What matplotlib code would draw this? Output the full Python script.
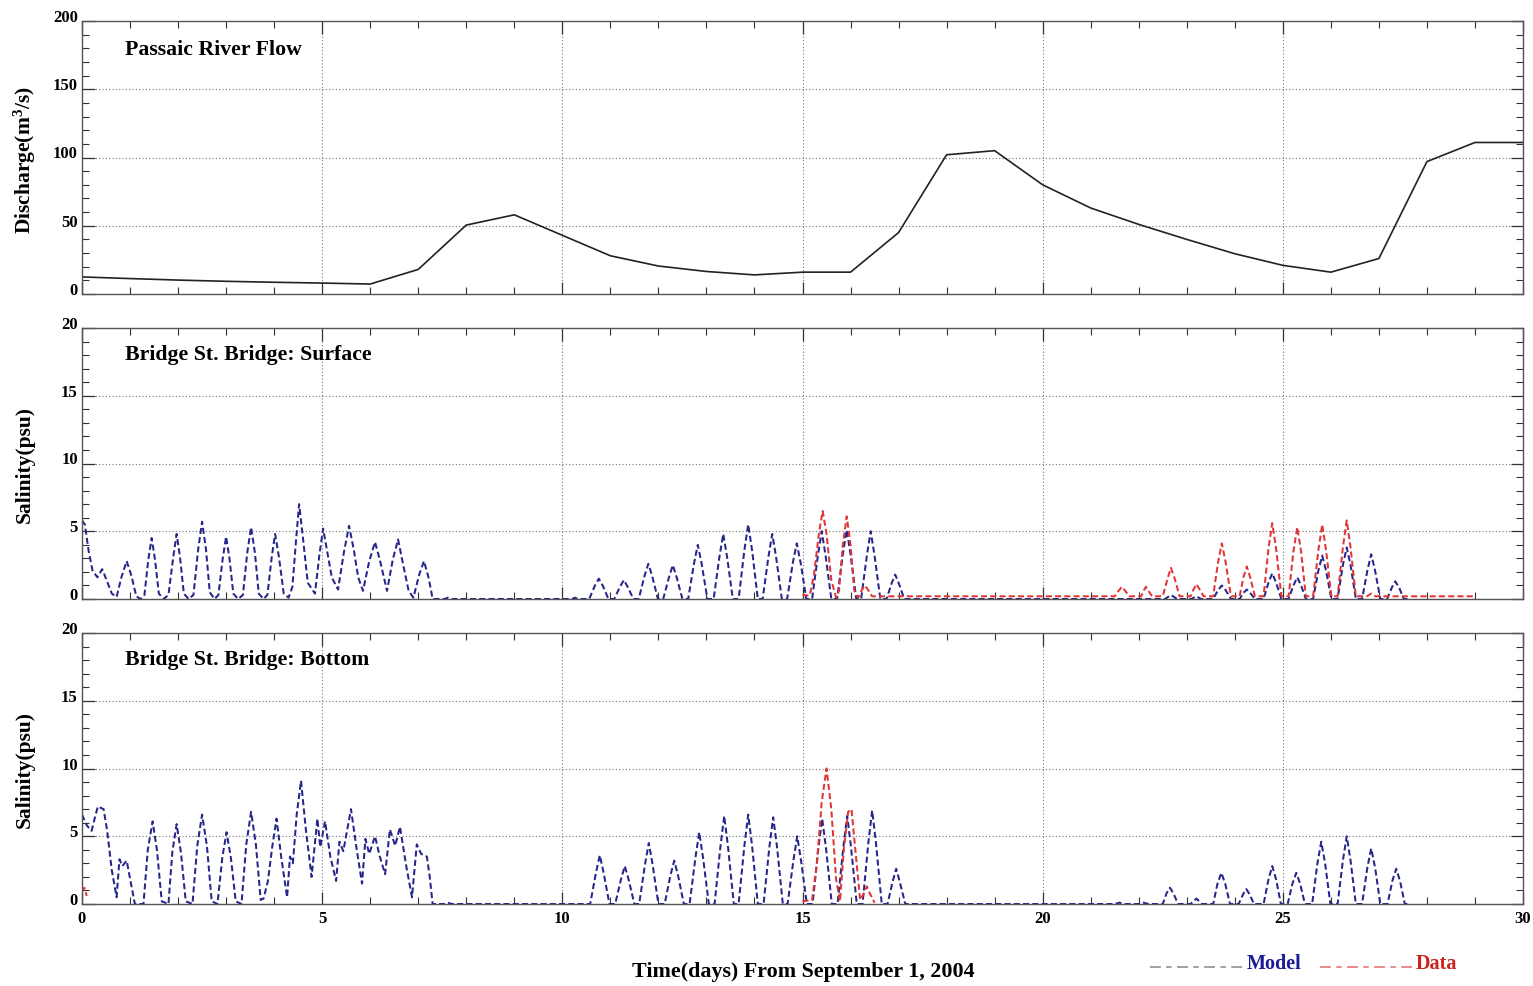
import matplotlib
matplotlib.use("Agg")
import matplotlib.pyplot as plt
from matplotlib.lines import Line2D
from matplotlib.ticker import MultipleLocator
import numpy as np

plt.rcParams['font.family'] = ['Liberation Serif', 'DejaVu Serif']
plt.rcParams['font.weight'] = 'bold'
plt.rcParams['mathtext.fontset'] = 'custom'
plt.rcParams['mathtext.rm'] = 'Liberation Serif:bold'
plt.rcParams['mathtext.it'] = 'Liberation Serif:bold'
plt.rcParams['mathtext.bf'] = 'Liberation Serif:bold'

# ---------------- data ----------------
flow_days = list(range(31))
flow = [12.5, 11.3, 10.2, 9.3, 8.6, 8.0, 7.3, 18, 50.5, 58, 43, 28, 20.5, 16.5, 14,
        16, 16, 45, 102, 105, 80, 63, 51, 40, 29.5, 21, 16, 26, 97, 111, 111]

surf_model = [
    (0.0, 5.8), (0.06, 5.5), (0.14, 3.5), (0.22, 2.1), (0.32, 1.6), (0.42, 2.2), (0.5, 1.5),
    (0.62, 0.4), (0.72, 0.15), (0.82, 1.6), (0.93, 2.8), (1.03, 1.7), (1.13, 0.2), (1.22, 0.0),
    (1.3, 0.3), (1.38, 2.9), (1.45, 4.5), (1.52, 2.9), (1.6, 0.4), (1.7, 0.0),
    (1.8, 0.3), (1.9, 3.1), (1.97, 4.8), (2.04, 3.1), (2.12, 0.4), (2.22, 0.0),
    (2.32, 0.3), (2.42, 3.7), (2.5, 5.7), (2.58, 3.7), (2.66, 0.5), (2.76, 0.0),
    (2.84, 0.3), (2.93, 3.0), (3.0, 4.6), (3.07, 3.0), (3.15, 0.4), (3.25, 0.0),
    (3.35, 0.3), (3.44, 3.4), (3.52, 5.3), (3.6, 3.4), (3.68, 0.4), (3.78, 0.0),
    (3.86, 0.3), (3.95, 3.1), (4.02, 4.8), (4.1, 3.1), (4.2, 0.4), (4.3, 0.1),
    (4.38, 0.9), (4.46, 4.5), (4.52, 7.0), (4.6, 4.5), (4.7, 1.2), (4.85, 0.4),
    (4.94, 3.2), (5.02, 5.2), (5.1, 3.6), (5.2, 1.6), (5.33, 0.7), (5.45, 3.4),
    (5.56, 5.4), (5.66, 3.6), (5.75, 1.6), (5.85, 0.6), (5.98, 2.8), (6.1, 4.2),
    (6.2, 2.9), (6.35, 0.6), (6.47, 2.9), (6.58, 4.4), (6.7, 2.3), (6.8, 0.6),
    (6.9, 0.1), (7.02, 1.8), (7.12, 2.8), (7.22, 1.5), (7.3, 0.0), (7.55, 0.0),
    (7.62, 0.1), (7.7, 0.0), (10.2, 0.0), (10.26, 0.1), (10.32, 0.0),
    (10.56, 0.0), (10.68, 1.0), (10.76, 1.5), (10.84, 1.0), (10.96, 0.0),
    (11.08, 0.0), (11.2, 0.9), (11.28, 1.4), (11.36, 0.9), (11.48, 0.0),
    (11.59, 0.0), (11.71, 1.7), (11.79, 2.6), (11.87, 1.7), (11.99, 0.0),
    (12.1, 0.0), (12.22, 1.6), (12.3, 2.5), (12.38, 1.6), (12.5, 0.0),
    (12.62, 0.0), (12.74, 2.6), (12.82, 4.0), (12.9, 2.6), (13.02, 0.0),
    (13.15, 0.0), (13.27, 3.1), (13.35, 4.8), (13.43, 3.1), (13.55, 0.0),
    (13.67, 0.0), (13.79, 3.6), (13.87, 5.5), (13.95, 3.6), (14.07, 0.0),
    (14.17, 0.0), (14.29, 3.1), (14.37, 4.8), (14.45, 3.1), (14.57, 0.0),
    (14.68, 0.0), (14.8, 2.7), (14.88, 4.1), (14.96, 2.7), (15.08, 0.0),
    (15.2, 0.0), (15.32, 3.2), (15.4, 5.0), (15.48, 3.2), (15.6, 0.0),
    (15.72, 0.0), (15.84, 3.3), (15.92, 5.1), (16.0, 3.3), (16.12, 0.0),
    (16.22, 0.0), (16.34, 3.2), (16.42, 5.0), (16.5, 3.2), (16.62, 0.0),
    (16.75, 0.0), (16.86, 1.2), (16.93, 1.8), (17.0, 1.2), (17.12, 0.0),
    (22.55, 0.0), (22.67, 0.3), (22.8, 0.0), (23.1, 0.0), (23.2, 0.2), (23.3, 0.0),
    (23.55, 0.0), (23.65, 0.65), (23.73, 1.0), (23.81, 0.65), (23.92, 0.0),
    (24.1, 0.0), (24.18, 0.45), (24.25, 0.7), (24.32, 0.45), (24.42, 0.0),
    (24.6, 0.0), (24.7, 1.2), (24.78, 1.9), (24.86, 1.2), (24.97, 0.0),
    (25.12, 0.0), (25.22, 1.0), (25.3, 1.6), (25.38, 1.0), (25.48, 0.0),
    (25.63, 0.0), (25.74, 2.1), (25.82, 3.2), (25.9, 2.1), (26.01, 0.0),
    (26.14, 0.0), (26.25, 2.5), (26.33, 3.8), (26.41, 2.5), (26.52, 0.0),
    (26.65, 0.0), (26.76, 2.1), (26.84, 3.3), (26.92, 2.1), (27.03, 0.0),
    (27.17, 0.0), (27.27, 0.85), (27.34, 1.3), (27.42, 0.85), (27.52, 0.0),
    (27.6, 0.0),
]

surf_data = [
    (15.0, 0.3), (15.15, 0.25), (15.24, 1.8), (15.34, 4.8), (15.42, 6.5), (15.5, 4.8),
    (15.6, 1.4), (15.7, 0.1), (15.76, 0.6), (15.84, 4.0), (15.92, 6.1), (16.0, 4.0),
    (16.08, 0.6), (16.16, 0.1), (16.24, 0.7), (16.3, 1.0), (16.36, 0.7), (16.45, 0.2),
    (21.5, 0.2), (21.58, 0.6), (21.65, 0.9), (21.72, 0.6), (21.8, 0.2),
    (22.05, 0.2), (22.1, 0.6), (22.15, 0.9), (22.2, 0.6), (22.28, 0.2),
    (22.5, 0.2), (22.6, 1.5), (22.67, 2.3), (22.75, 1.5), (22.85, 0.2),
    (23.08, 0.2), (23.14, 0.7), (23.2, 1.1), (23.27, 0.7), (23.35, 0.2),
    (23.55, 0.2), (23.65, 2.7), (23.73, 4.1), (23.81, 2.7), (23.92, 0.2),
    (24.1, 0.2), (24.18, 1.6), (24.25, 2.4), (24.32, 1.6), (24.42, 0.2),
    (24.6, 0.2), (24.7, 3.7), (24.78, 5.6), (24.86, 3.7), (24.97, 0.2),
    (25.12, 0.2), (25.22, 3.5), (25.3, 5.3), (25.38, 3.5), (25.48, 0.2),
    (25.63, 0.2), (25.74, 3.6), (25.82, 5.5), (25.9, 3.6), (26.01, 0.2),
    (26.14, 0.2), (26.25, 3.8), (26.33, 5.8), (26.41, 3.8), (26.52, 0.2),
    (26.75, 0.2), (26.84, 0.4), (26.93, 0.2), (29.0, 0.2),
]

bot_model = [
    (0.0, 6.6), (0.1, 5.8), (0.2, 5.4), (0.27, 6.4), (0.33, 7.2), (0.45, 7.0), (0.52, 5.5),
    (0.62, 2.5), (0.72, 0.5), (0.78, 3.3), (0.84, 2.8), (0.93, 3.2), (1.02, 1.5), (1.1, 0.0),
    (1.28, 0.0), (1.37, 4.0), (1.47, 6.1), (1.56, 4.0), (1.66, 0.2), (1.8, 0.0),
    (1.88, 3.8), (1.97, 5.9), (2.06, 3.8), (2.16, 0.2), (2.3, 0.0),
    (2.4, 4.3), (2.5, 6.6), (2.6, 4.3), (2.7, 0.2), (2.82, 0.0),
    (2.92, 3.4), (3.01, 5.3), (3.1, 3.4), (3.2, 0.2), (3.32, 0.0),
    (3.42, 4.4), (3.52, 6.8), (3.62, 4.4), (3.72, 0.3), (3.78, 0.4), (3.87, 1.7),
    (3.96, 4.2), (4.05, 6.3), (4.15, 3.4), (4.27, 0.5), (4.33, 3.5), (4.39, 3.0),
    (4.47, 6.6), (4.56, 9.1), (4.66, 5.5), (4.78, 2.0), (4.9, 6.3), (4.96, 4.2),
    (5.06, 6.1), (5.17, 3.5), (5.29, 1.7), (5.36, 4.6), (5.44, 3.9), (5.6, 7.0),
    (5.72, 4.0), (5.83, 1.5), (5.9, 4.8), (5.98, 3.7), (6.1, 5.0), (6.2, 3.5),
    (6.31, 2.2), (6.41, 5.5), (6.52, 4.3), (6.62, 5.7), (6.75, 2.8), (6.87, 0.5),
    (6.97, 4.4), (7.06, 3.7), (7.18, 3.5), (7.24, 2.0), (7.3, 0.0), (7.55, 0.0),
    (7.62, 0.1), (7.7, 0.0),
    (10.58, 0.0), (10.7, 2.3), (10.78, 3.6), (10.86, 2.3), (10.98, 0.0),
    (11.1, 0.0), (11.22, 1.8), (11.3, 2.8), (11.38, 1.8), (11.5, 0.0),
    (11.6, 0.0), (11.72, 2.9), (11.8, 4.5), (11.88, 2.9), (12.0, 0.0),
    (12.13, 0.0), (12.25, 2.1), (12.33, 3.2), (12.41, 2.1), (12.53, 0.0),
    (12.65, 0.0), (12.77, 3.4), (12.85, 5.3), (12.93, 3.4), (13.05, 0.0),
    (13.17, 0.0), (13.29, 4.2), (13.37, 6.5), (13.45, 4.2), (13.57, 0.0),
    (13.67, 0.0), (13.79, 4.3), (13.87, 6.6), (13.95, 4.3), (14.07, 0.0),
    (14.19, 0.0), (14.31, 4.2), (14.39, 6.4), (14.47, 4.2), (14.59, 0.0),
    (14.69, 0.0), (14.81, 3.2), (14.89, 5.0), (14.97, 3.2), (15.09, 0.0),
    (15.21, 0.0), (15.33, 4.1), (15.41, 6.3), (15.49, 4.1), (15.61, 0.0),
    (15.73, 0.0), (15.85, 4.2), (15.93, 6.5), (16.01, 4.2), (16.13, 0.0),
    (16.25, 0.0), (16.37, 4.5), (16.45, 6.9), (16.53, 4.5), (16.65, 0.0),
    (16.77, 0.0), (16.88, 1.7), (16.95, 2.6), (17.02, 1.7), (17.14, 0.0),
    (21.5, 0.0), (21.6, 0.1), (21.7, 0.0), (22.0, 0.0), (22.1, 0.1), (22.2, 0.0),
    (22.5, 0.0), (22.58, 0.8), (22.65, 1.2), (22.72, 0.8), (22.82, 0.0),
    (23.08, 0.0), (23.2, 0.4), (23.32, 0.0),
    (23.55, 0.0), (23.64, 1.5), (23.72, 2.3), (23.8, 1.5), (23.9, 0.0),
    (24.08, 0.0), (24.17, 0.7), (24.24, 1.1), (24.31, 0.7), (24.4, 0.0),
    (24.6, 0.0), (24.7, 1.8), (24.78, 2.8), (24.86, 1.8), (24.96, 0.0),
    (25.1, 0.0), (25.2, 1.5), (25.28, 2.3), (25.36, 1.5), (25.46, 0.0),
    (25.61, 0.0), (25.72, 3.0), (25.8, 4.6), (25.88, 3.0), (25.99, 0.0),
    (26.14, 0.0), (26.25, 3.2), (26.33, 5.0), (26.41, 3.2), (26.52, 0.0),
    (26.65, 0.0), (26.76, 2.7), (26.84, 4.1), (26.92, 2.7), (27.03, 0.0),
    (27.18, 0.0), (27.28, 1.7), (27.36, 2.6), (27.44, 1.7), (27.54, 0.0),
    (27.6, 0.0),
]

bot_data_a = [(0.0, 0.9), (0.05, 1.2), (0.1, 0.6)]
bot_data_b = [
    (15.0, 0.2), (15.2, 0.3), (15.3, 3.0), (15.4, 7.5), (15.5, 10.0), (15.6, 7.0),
    (15.7, 1.8), (15.78, 0.2), (15.86, 4.0), (15.95, 6.8), (16.02, 7.0), (16.1, 4.0),
    (16.2, 0.3), (16.28, 0.8), (16.34, 1.3), (16.4, 0.8), (16.5, 0.1),
]

x_ticks = [0, 5, 10, 15, 20, 25, 30]
flow_yticks = [0, 50, 100, 150, 200]
sal_yticks = [0, 5, 10, 15, 20]

titles = ["Passaic River Flow", "Bridge St. Bridge: Surface", "Bridge St. Bridge: Bottom"]
ylabels = ["Discharge(m$^3$/s)", "Salinity(psu)", "Salinity(psu)"]
xlabel = "Time(days) From September 1, 2004"

# ---------------- figure ----------------
W, H = 1533, 987
fig = plt.figure(figsize=(W / 100, H / 100), dpi=100)

def px_axes(left, top, right, bottom):
    return fig.add_axes([left / W, 1 - bottom / H, (right - left) / W, (bottom - top) / H])

ax1 = px_axes(82, 22, 1523, 295)
ax2 = px_axes(82, 329, 1523, 600)
ax3 = px_axes(82, 634, 1523, 905)
axes = [ax1, ax2, ax3]

MODEL_C = '#25258a'
DATA_C = '#e03535'
dash = (3.0, 1.6)
LW = 1.45

ax1.plot(flow_days, flow, color='#222222', lw=1.2)

def xy(pairs):
    a = np.array(pairs, dtype=float)
    return a[:, 0], a[:, 1]

t, s = xy(surf_model)
ax2.plot(t, s, color=MODEL_C, lw=LW, dashes=dash)
t, s = xy(surf_data)
ax2.plot(t, s, color=DATA_C, lw=LW, dashes=dash)
t, s = xy(bot_model)
ax3.plot(t, s, color=MODEL_C, lw=LW, dashes=dash)
for seg in (bot_data_a, bot_data_b):
    t, s = xy(seg)
    ax3.plot(t, s, color=DATA_C, lw=LW, dashes=dash)

for i, ax in enumerate(axes):
    ax.set_xlim(0, 30)
    if i == 0:
        ax.set_ylim(0, 200)
        ax.set_yticks(flow_yticks, labels=[str(v) for v in flow_yticks], va='baseline')
        ax.yaxis.set_minor_locator(MultipleLocator(10))
    else:
        ax.set_ylim(0, 20)
        ax.set_yticks(sal_yticks, labels=[str(v) for v in sal_yticks], va='baseline')
        ax.yaxis.set_minor_locator(MultipleLocator(1))
    ax.set_xticks(x_ticks)
    ax.xaxis.set_minor_locator(MultipleLocator(1))
    if i < 2:
        ax.set_xticklabels([])
    else:
        ax.set_xticklabels([str(v) for v in x_ticks])
    ax.tick_params(which='both', direction='in', top=True, right=True,
                   labelsize=12, colors='#333333', labelcolor='black')
    ax.tick_params(which='major', length=9, width=0.9, pad=3)
    ax.tick_params(which='minor', length=5, width=0.8)
    ax.tick_params(axis='x', which='major', pad=4)
    ax.grid(True, which='major', linestyle=(0, (1, 2)), color='#777777', lw=0.8)
    for sp in ax.spines.values():
        sp.set_color('#555555')
        sp.set_linewidth(1.0)
    ax.text(43 / 1441, 0.897 if i == 0 else 0.904, titles[i], transform=ax.transAxes,
            fontsize=15.7, fontweight='bold', ha='left', va='center')

centers = [(22 + 295) / 2 + 2, (329 + 600) / 2, (634 + 905) / 2]
for lab, cy in zip(ylabels, centers):
    fig.text(25 / W, 1 - cy / H, lab, rotation=90, ha='center', va='center',
             fontsize=15.5, fontweight='bold')

fig.text(803 / W, 1 - 972 / H, xlabel, ha='center', va='center', fontsize=15.8, fontweight='bold')

# legend
ly = 1 - 968 / H
fig.add_artist(Line2D([1150 / W, 1243 / W], [ly, ly], transform=fig.transFigure,
                      color='#999999', lw=1.3, dashes=(6, 3, 3, 3)))
fig.text(1247 / W, 1 - 964 / H, "Model", color='#1a1a99', fontsize=14.5, fontweight='bold',
         ha='left', va='center')
fig.add_artist(Line2D([1320 / W, 1412 / W], [ly, ly], transform=fig.transFigure,
                      color='#e88080', lw=1.3, dashes=(6, 3, 3, 3)))
fig.text(1416 / W, 1 - 964 / H, "Data", color='#cc2222', fontsize=14.5, fontweight='bold',
         ha='left', va='center')

fig.savefig("out.png", dpi=100)
